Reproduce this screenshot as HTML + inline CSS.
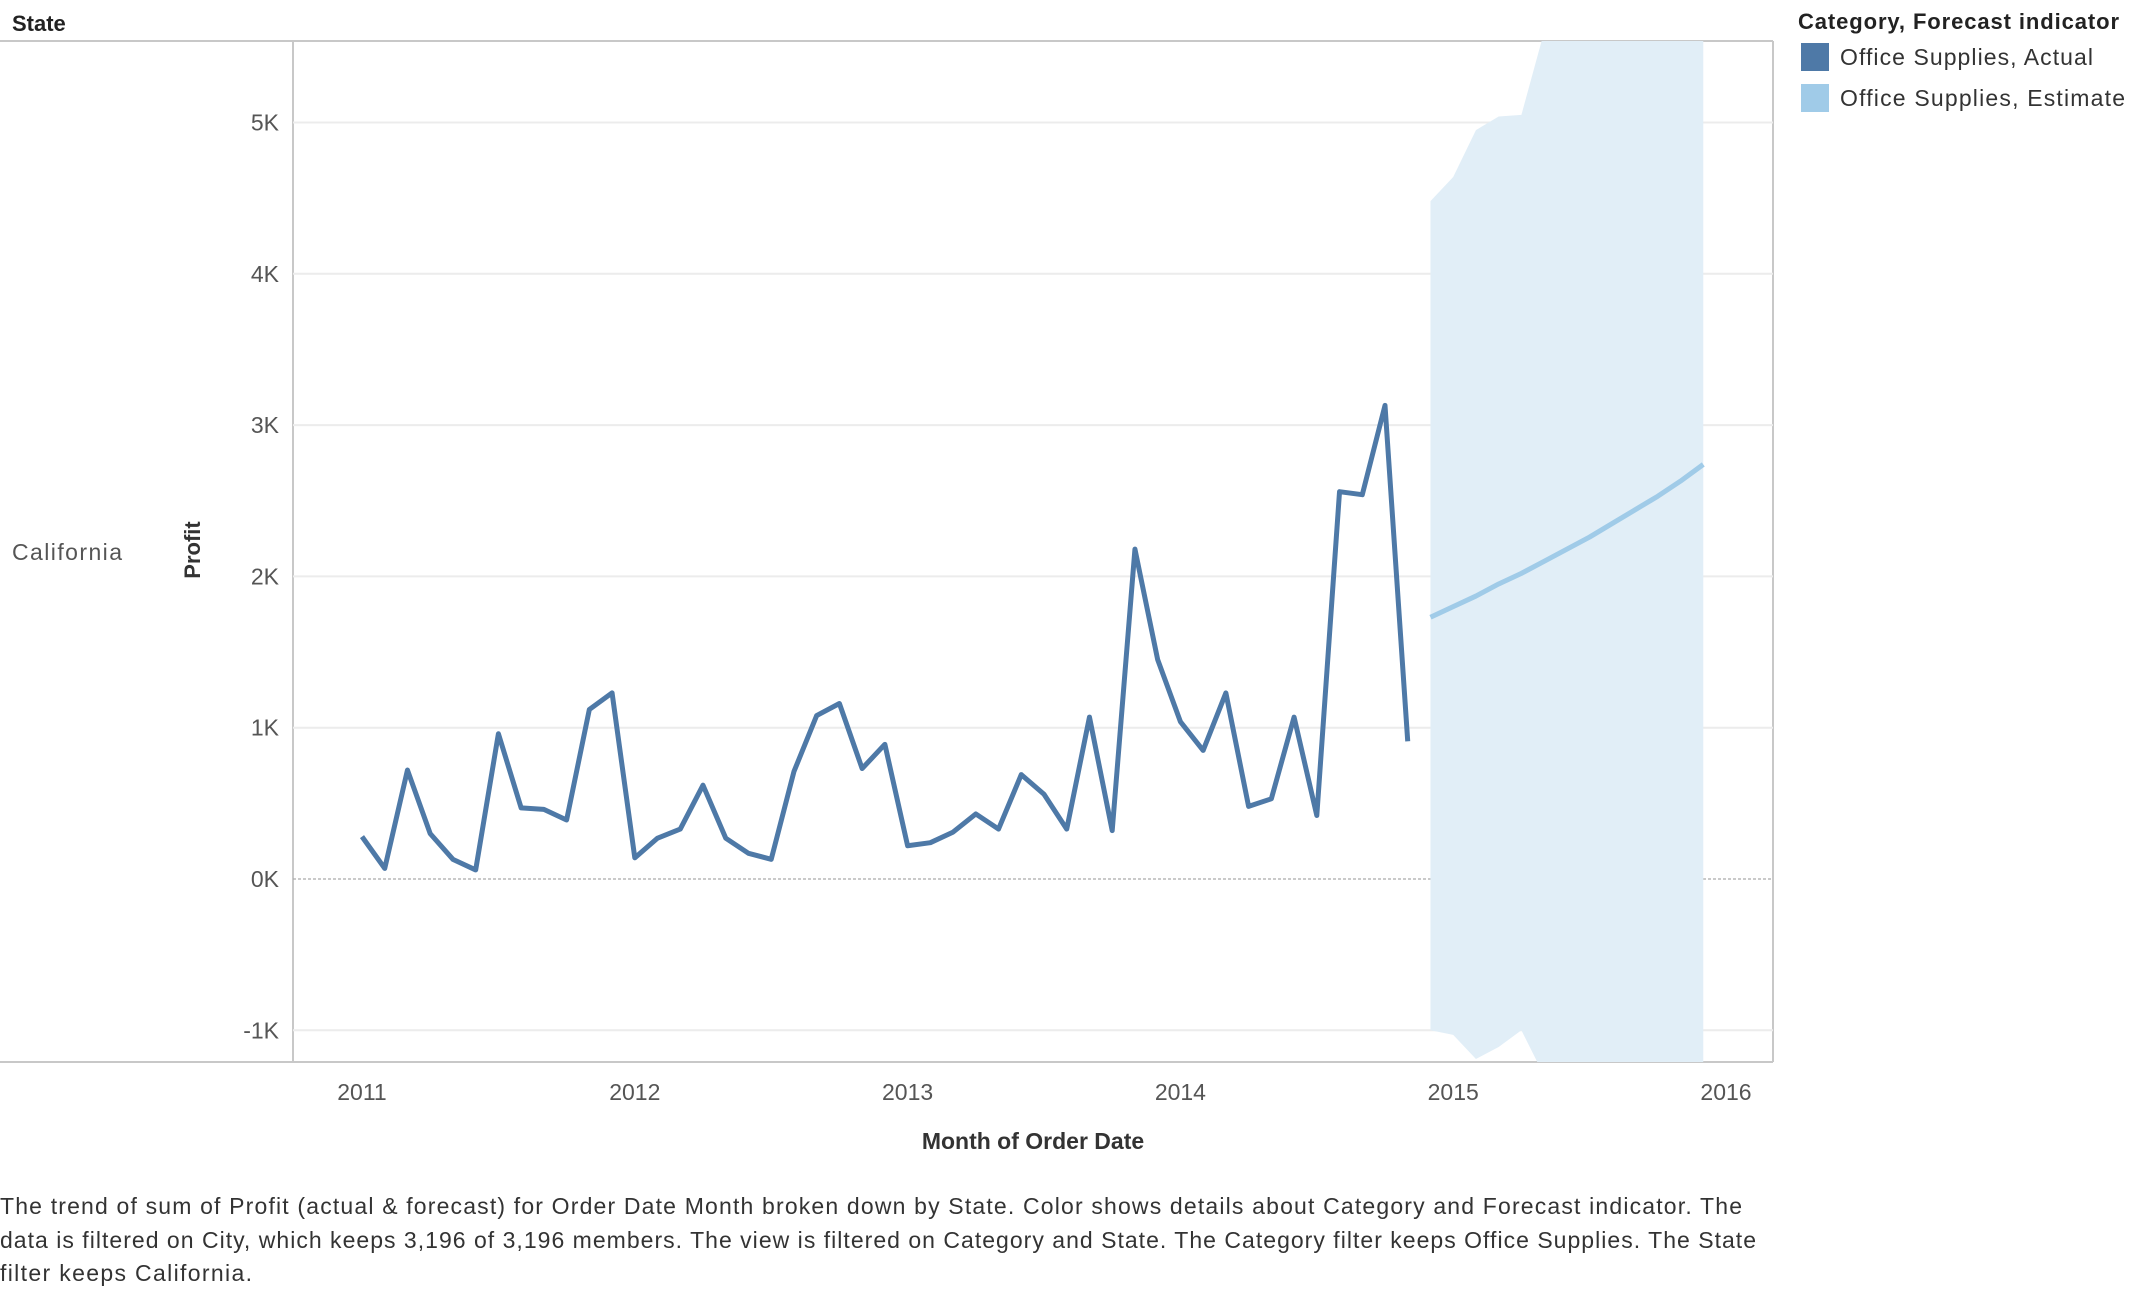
<!DOCTYPE html>
<html><head><meta charset="utf-8">
<style>
body{margin:0;width:2130px;height:1290px;background:#fff;overflow:hidden;font-family:"Liberation Sans",sans-serif;color:#333}
</style></head>
<body>
<svg width="2130" height="1290" xmlns="http://www.w3.org/2000/svg" style="position:absolute;left:0;top:0">
<defs><clipPath id="pc"><rect x="293" y="41" width="1480" height="1021"/></clipPath></defs>
<g id="static">
<text x="12" y="31" font-size="22" font-weight="bold" fill="#222">State</text>
<line x1="0" y1="41" x2="1773" y2="41" stroke="#c8c8c8" stroke-width="2"/>
<line x1="0" y1="1062" x2="1773" y2="1062" stroke="#c8c8c8" stroke-width="2"/>
<line x1="293" y1="41" x2="293" y2="1062" stroke="#c8c8c8" stroke-width="2"/>
<line x1="1773" y1="41" x2="1773" y2="1062" stroke="#c8c8c8" stroke-width="2"/>
<text x="12" y="560" font-size="23" fill="#555" textLength="110">California</text>
<text transform="translate(200,550) rotate(-90)" text-anchor="middle" font-size="22" font-weight="bold" fill="#333">Profit</text>
<text x="1033" y="1149" text-anchor="middle" font-size="23" font-weight="bold" fill="#333">Month of Order Date</text>
<text x="1798" y="29" font-size="22" font-weight="bold" fill="#222" textLength="321">Category, Forecast indicator</text>
<rect x="1801" y="43" width="28" height="28" fill="#4e79a7"/>
<text x="1840" y="65" font-size="23" fill="#333" textLength="253">Office Supplies, Actual</text>
<rect x="1801" y="84" width="28" height="28" fill="#a0cbe8"/>
<text x="1840" y="106" font-size="23" fill="#333" textLength="285">Office Supplies, Estimate</text>
<g font-size="23" fill="#333">
<text x="0" y="1214" textLength="1742">The trend of sum of Profit (actual &amp; forecast)  for Order Date Month broken down by State.  Color shows details about Category and Forecast indicator. The</text>
<text x="0" y="1248" textLength="1756">data is filtered on City, which keeps 3,196 of 3,196 members. The view is filtered on Category and State. The Category filter keeps Office Supplies. The State</text>
<text x="0" y="1281" textLength="252">filter keeps California.</text>
</g>
</g>
<g id="grid"></g>
<g id="band" clip-path="url(#pc)"></g>
<g id="lines"></g>
<g id="axes"></g>
</svg>
<script>
const actual=[0.28,0.07,0.72,0.30,0.13,0.06,0.96,0.47,0.46,0.39,1.12,1.23,
0.14,0.27,0.33,0.62,0.27,0.17,0.13,0.71,1.08,1.16,0.73,0.89,
0.22,0.24,0.31,0.43,0.33,0.69,0.56,0.33,1.07,0.32,2.18,1.45,
1.04,0.85,1.23,0.48,0.53,1.07,0.42,2.56,2.54,3.13,0.91];
const estimate=[1.73,1.80,1.87,1.95,2.02,2.10,2.18,2.26,2.35,2.44,2.53,2.63,2.74];
const bandUpper=[4.48,4.64,4.95,5.04,5.05,5.6,6.0,6.3,6.6,6.9,7.2,7.5,7.8];
const bandLower=[-1.00,-1.03,-1.19,-1.11,-1.00,-1.3,-1.5,-1.7,-1.9,-2.1,-2.3,-2.5,-2.7];
const yTicks=[-1,0,1,2,3,4,5];
const yTickLabels=["-1K","0K","1K","2K","3K","4K","5K"];
const xTickLabels=["2011","2012","2013","2014","2015","2016"];
const NS="http://www.w3.org/2000/svg";
function x(m){return 362+m*(1726-362)/60;}
function y(v){return 879-v*151.3;}
function mk(t,a,p){const e=document.createElementNS(NS,t);for(const k in a)e.setAttribute(k,a[k]);document.getElementById(p).appendChild(e);return e;}
yTicks.forEach((v,i)=>{
  if(v!==0){const g=mk('line',{x1:293,x2:1773,y1:y(v),y2:y(v),stroke:'#ececec','stroke-width':2},'grid');
  
  }
  else{const z=mk('line',{x1:293,x2:1773,y1:y(0),y2:y(0),stroke:'#aaa','stroke-width':1.3,'stroke-dasharray':'3,2'},'grid');
  
  }
  const t=mk('text',{x:279,y:y(v)+8,'text-anchor':'end','font-size':23,fill:'#555'},'axes');
  t.textContent=yTickLabels[i];
  
  
});
xTickLabels.forEach((s,i)=>{
  const t=mk('text',{x:x(i*12),y:1100,'text-anchor':'middle','font-size':23,fill:'#555'},'axes');
  t.textContent=s;
  
  
});
let pts=[];
bandUpper.forEach((v,i)=>pts.push(x(47+i)+','+y(v)));
for(let i=bandLower.length-1;i>=0;i--)pts.push(x(47+i)+','+y(bandLower[i]));
const b=mk('polygon',{points:pts.join(' '),fill:'#e1eef7'},'band');


const a=mk('polyline',{points:actual.map((v,i)=>x(i)+','+y(v)).join(' '),fill:'none',stroke:'#4e79a7','stroke-width':5,'stroke-linejoin':'round'},'lines');


const e=mk('polyline',{points:estimate.map((v,i)=>x(47+i)+','+y(v)).join(' '),fill:'none',stroke:'#a0cbe8','stroke-width':5,'stroke-linejoin':'round'},'lines');


</script>
</body></html>
